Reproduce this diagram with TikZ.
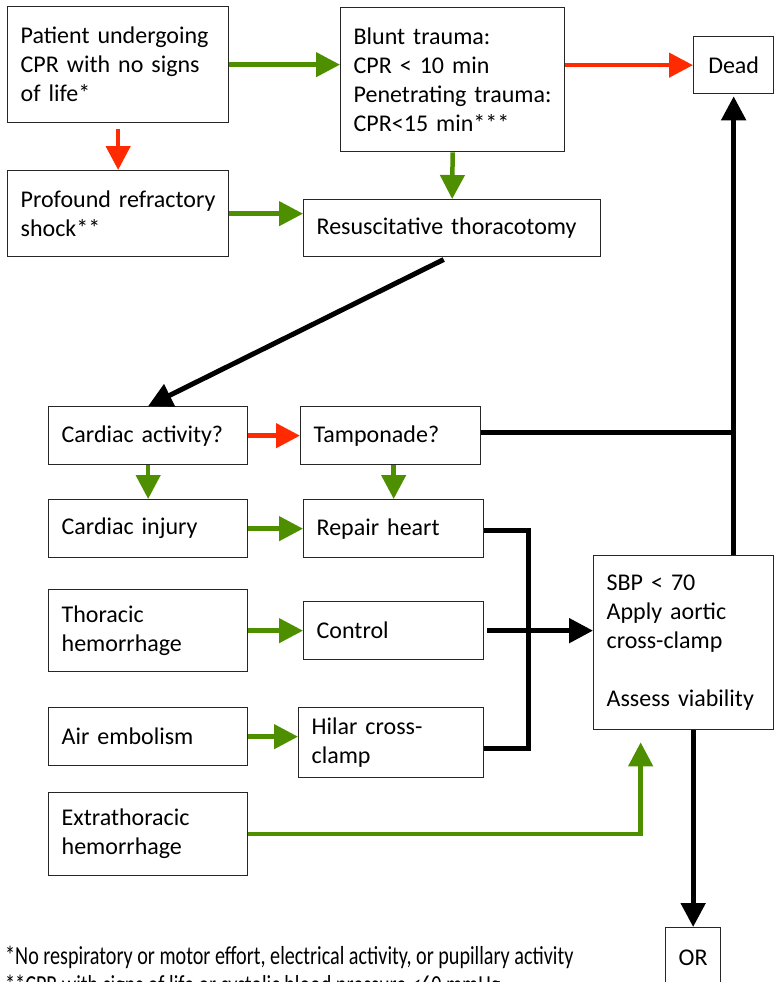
\documentclass[tikz,border=0pt]{standalone}
\usepackage{fontspec}
\setmainfont{Carlito}
\newfontfamily\footfont[FakeStretch=0.775]{Carlito}
\usetikzlibrary{arrows.meta}
\definecolor{ggreen}{RGB}{78,143,0}
\definecolor{rred}{RGB}{255,42,0}
\begin{document}
\begin{tikzpicture}[x=1pt,y=-1pt,
  box/.style={draw=black!85, line width=1.3pt, fill=white, anchor=north west,
    align=left, inner xsep=13pt, inner ysep=0pt, font=\fontsize{24}{29}\selectfont},
  cbox/.style={box, align=center, inner xsep=0pt},
  tipx/.style={-{Triangle[length=24pt,width=24pt]}},
  garrow/.style={line width=4.5pt, draw=ggreen, tipx},
  gline/.style={line width=4.5pt, draw=ggreen},
  rarrow/.style={line width=4.5pt, draw=rred, tipx},
  barrow/.style={line width=5pt, draw=black, tipx},
  bline/.style={line width=5pt, draw=black},
  fnote/.style={anchor=base west, inner sep=0pt, font=\footfont\fontsize{26}{30}\selectfont}
]
\useasboundingbox[fill=white] (0,0) rectangle (774,982);

% boxes
\node[box, text width=195pt, minimum height=116pt] (A) at (7,6) {Patient undergoing\\CPR with no signs\\of life*};
\node[box, text width=198pt, minimum height=144pt] (B) at (340,7) {Blunt trauma:\\CPR < 10 min\\Penetrating trauma:\\CPR<15 min***};
\node[cbox, minimum width=80pt, minimum height=57pt] (Dead) at (693,36) {Dead};
\node[box, text width=195pt, minimum height=86pt] (C) at (7,170) {Profound refractory\\shock**};
\node[box, text width=271pt, minimum height=57pt] (D) at (303,199) {Resuscitative thoracotomy};
\node[box, text width=173pt, minimum height=58pt] (E) at (48,406) {Cardiac activity?};
\node[box, text width=154pt, minimum height=58pt] (F) at (300,406) {Tamponade?};
\node[box, text width=173pt, minimum height=58pt] (G) at (48,499) {Cardiac injury};
\node[box, text width=154pt, minimum height=58pt] (H) at (303,499) {Repair heart};
\node[box, text width=173pt, minimum height=82pt] (I) at (48,589) {Thoracic\\hemorrhage};
\node[box, text width=154pt, minimum height=58pt] (J) at (303,601) {Control};
\node[box, text width=173pt, minimum height=58pt] (K) at (48,707) {Air embolism};
\node[box, text width=159pt, minimum height=70pt] (L) at (298,707) {Hilar cross-\\clamp};
\node[box, text width=173pt, minimum height=83pt] (M) at (48,792) {Extrathoracic\\hemorrhage};
\node[box, text width=154pt, minimum height=174pt] (N) at (593,555) {SBP < 70\\Apply aortic\\cross-clamp\\[29pt]Assess viability};
\node[cbox, minimum width=55pt, minimum height=60pt] (OR) at (665,927) {OR};

% footnotes
\node[fnote] (fn1) at (5,964) {*No respiratory or motor effort, electrical activity, or pupillary activity};
\node[fnote] (fn2) at (5,993) {**CPR with signs of life or systolic blood pressure <60 mmHg};

% connectors
\draw[garrow] (A.east) -- (A.east -| B.west);
\draw[rarrow] (Dead.west -| B.east) -- (Dead.west);
\draw[rarrow, shorten <=6pt] (A.south) -- (C.north);
\draw[garrow] (C.east) -- (C.east -| D.west);
\draw[garrow] (B.south) -- (D.north);
\draw[barrow, shorten <=5pt] ([xshift=-4pt]D.south) -- (E.north);
\draw[rarrow] (E.east) -- (F.west);
\draw[garrow] (E.south) -- (G.north);
\draw[garrow] (H.north |- F.south) -- (H.north);
\draw[garrow] (G.east) -- (H.west);
\draw[garrow] (I.east) -- (J.west);
\draw[garrow] (K.east) -- (K.east -| L.west);
\draw[bline] ([yshift=3pt]F.east) -- ([yshift=3pt]F.east -| Dead.south);
\draw[barrow, shorten >=2pt] (N.north -| Dead.south) -- (Dead.south);
\draw[bline] ([yshift=-2pt]H.east) -- ++(44,0) |- ([yshift=-6pt]L.east);
\draw[barrow] ([xshift=3pt]J.east) -- (J.east -| N.west);
\draw[barrow] (OR.north |- N.south) -- (OR.north);
\draw[garrow, shorten >=12pt] (M.east) -| ([xshift=-43pt]N.south);
\end{tikzpicture}
\end{document}
